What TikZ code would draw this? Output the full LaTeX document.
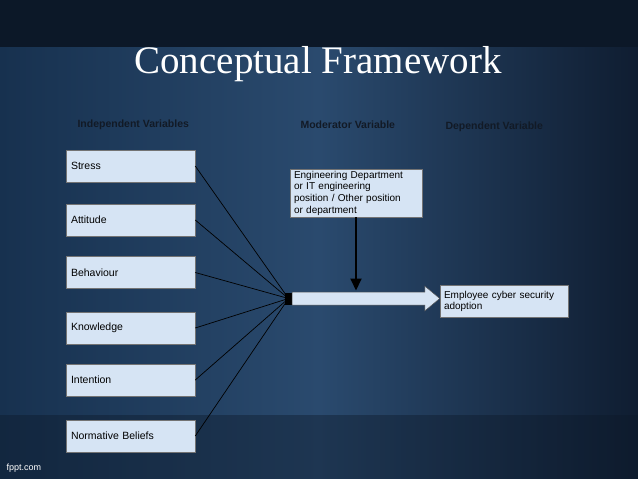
\documentclass[tikz,border=0pt]{standalone}
\usepackage{fontspec}
\setmainfont{Liberation Serif}
\newfontfamily\arialfont{Liberation Sans}
\usetikzlibrary{arrows.meta,calc}

\definecolor{boxblue}{HTML}{D6E4F4}
\definecolor{bgleft}{HTML}{17314F}
\definecolor{bgmid}{HTML}{2A4A6E}
\definecolor{bgright}{HTML}{0F1D31}
\definecolor{bgband}{HTML}{0C1828}
\definecolor{headink}{HTML}{121A26}

\tikzset{
  varbox/.style={rectangle, fill=boxblue, draw=black!55, line width=0.5pt,
    minimum height=32pt, align=left, inner xsep=5pt, inner ysep=2pt,
    font=\arialfont\fontsize{10.5}{12}\selectfont},
  headtext/.style={anchor=west, text=headink, font=\arialfont\bfseries\fontsize{10.5}{12}\selectfont},
  link/.style={black, line width=0.7pt}
}

\begin{document}
\begin{tikzpicture}[x=1pt, y=-1pt, >=stealth]
    \useasboundingbox (0,0) rectangle (638,479);

    % background
    \shade[left color=bgleft, right color=bgright, middle color=bgmid] (0,0) rectangle (638,479);
    \fill[bgband] (0,0) rectangle (638,47);
    \fill[bgband, opacity=0.4] (0,415) rectangle (638,479);
    \node[text=white, font=\arialfont\fontsize{9}{10}\selectfont, anchor=west] (site) at (3,468) {fppt.com};

    % title and column heads
    \node[text=white, font=\fontsize{39}{44}\selectfont] (title) at (318,64) {Conceptual Framework};
    \node[headtext] (indhead) at (74,125) {Independent Variables};
    \node[headtext] (modhead) at (297,125) {Moderator Variable};
    \node[headtext] (dephead) at (442,127) {Dependent Variable};

    % independent variables
    \coordinate (hub) at (288.5,298.5);
    \foreach \name/\txt/\y in {stress/Stress/166, attitude/Attitude/220, behaviour/Behaviour/272.5,
        knowledge/Knowledge/328, intention/Intention/380, beliefs/Normative Beliefs/436} {
        \node[varbox, minimum width=129pt, text width=119pt] (\name) at (130.5,\y) {\txt};
        \draw[link] (\name.east) -- (hub);
    }
    \node[fill=black, minimum width=7pt, minimum height=12pt, inner sep=0pt] (jn) at (hub) {};

    % moderator and dependent
    \node[varbox, minimum width=132pt, minimum height=46pt, text width=124pt, inner xsep=3pt,
        font=\arialfont\fontsize{10}{11.7}\selectfont] (mod) at (356,193)
        {Engineering Department\\or IT engineering\\position / Other position\\or department};
    \node[varbox, minimum width=128pt, text width=120pt, inner xsep=4pt,
        font=\arialfont\fontsize{10}{11}\selectfont] (dep) at (504,301)
        {Employee cyber security\\adoption};

    % block arrow
    \coordinate (tip) at (jn.east -| dep.west);
    \draw[fill=boxblue, draw=black!70, line width=0.5pt]
        ($(jn.east)+(0,-6.5)$) -- ($(tip)+(-15,-6.5)$) -- ++(0,-6) -- (tip)
        -- ($(tip)+(-15,12.5)$) -- ++(0,-6) -- ($(jn.east)+(0,6.5)$) -- cycle;

    % moderator arrow
    \coordinate (modend) at (mod.south |- tip);
    \draw[black, line width=2pt, -{Triangle[width=11pt,length=12pt]}] (mod.south) -- ($(modend)+(0,-8)$);
\end{tikzpicture}
\end{document}
